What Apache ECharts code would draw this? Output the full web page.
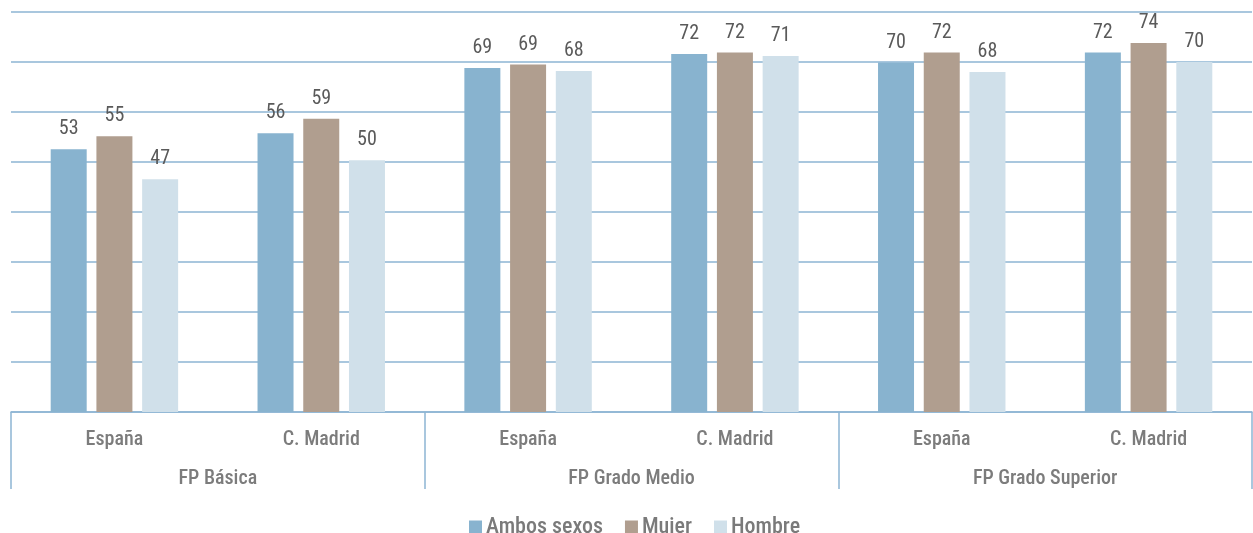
<!DOCTYPE html>
<html>
<head>
<meta charset="utf-8">
<script src="https://cdn.jsdelivr.net/npm/echarts@6/dist/echarts.min.js"></script>
<style>
  html, body { margin: 0; padding: 0; background: #fff; }
  #chart { width: 1253px; height: 533px; }
</style>
</head>
<body>
<div id="chart"></div>
<script>
const subCategories = ['España', 'C. Madrid', 'España', 'C. Madrid', 'España', 'C. Madrid'];
const groupCategories = ['FP Básica', 'FP Grado Medio', 'FP Grado Superior'];
const seriesNames = ['Ambos sexos', 'Mujer', 'Hombre'];
const ambosSexos = [52.5, 55.7, 68.7, 71.5, 69.8, 71.8];
const mujer = [55.1, 58.6, 69.4, 71.8, 71.8, 73.7];
const hombre = [46.5, 50.3, 68.1, 71.1, 67.9, 69.9];
const colors = ['#88b3cf', '#b09e8f', '#d0e0ea'];

const FONT = "'Roboto Condensed', 'Liberation Sans Narrow', 'Liberation Sans', sans-serif";
const lineColor = '#8db5d3';

const chart = echarts.init(document.getElementById('chart'));
const mk = (name, data, color) => ({
  name: name,
  type: 'bar',
  data: data,
  barWidth: 36,
  barGap: '27%',
  itemStyle: { color: color },
  label: {
    show: true,
    position: 'top',
    distance: 10,
    color: '#5a5a5a',
    fontFamily: FONT,
    fontWeight: 'normal',
    fontSize: 20,
    formatter: p => Math.round(p.value)
  }
});

chart.setOption({
  animation: false,
  color: colors,
  grid: { left: 11, right: 1, top: 11.5, bottom: 121, containLabel: false },
  legend: {
    data: seriesNames,
    top: 511,
    left: 464,
    itemWidth: 13,
    itemHeight: 13,
    itemGap: 22,
    icon: 'rect',
    textStyle: { color: '#7a7a7a', fontFamily: FONT, fontSize: 22, fontWeight: 500, padding: [0, 0, 0, -1] }
  },
  xAxis: [
    {
      type: 'category',
      data: subCategories,
      position: 'bottom',
      axisLine: { show: true, lineStyle: { color: lineColor, width: 1.5 } },
      axisTick: { show: false },
      axisLabel: { color: '#7c7c7c', fontFamily: FONT, fontWeight: 500, fontSize: 20, margin: 18, interval: 0 }
    },
    {
      type: 'category',
      data: groupCategories,
      position: 'bottom',
      boundaryGap: true,
      axisLine: { show: false },
      axisTick: { show: true, length: 77, interval: 0, lineStyle: { color: lineColor, width: 1.5 } },
      axisLabel: { color: '#7c7c7c', fontFamily: FONT, fontWeight: 500, fontSize: 20, margin: 57, interval: 0 }
    }
  ],
  yAxis: {
    type: 'value',
    min: 0,
    max: 80,
    interval: 10,
    axisLine: { show: false },
    axisTick: { show: false },
    axisLabel: { show: false },
    splitLine: { show: true, lineStyle: { color: lineColor, width: 1.5 } }
  },
  series: [
    mk(seriesNames[0], ambosSexos, colors[0]),
    mk(seriesNames[1], mujer, colors[1]),
    mk(seriesNames[2], hombre, colors[2])
  ]
});
</script>
</body>
</html>
